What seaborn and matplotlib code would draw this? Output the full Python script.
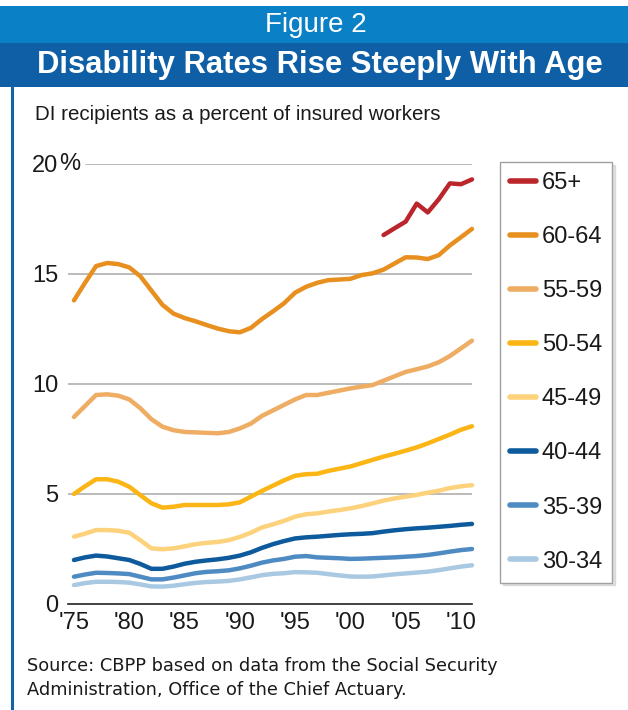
import matplotlib
matplotlib.use("Agg")
import matplotlib.pyplot as plt
from matplotlib.patches import Rectangle
from matplotlib.lines import Line2D
import numpy as np
import pandas as pd
import seaborn as sns

# DI recipients as a percent of insured workers, by age group
years = list(range(1975, 2012))
years_65 = list(range(2003, 2012))

age_65_plus = [16.77, 17.08, 17.38, 18.2, 17.8, 18.4, 19.12, 19.08, 19.3]
age_60_64 = [13.8, 14.6, 15.36, 15.5, 15.45, 15.3, 14.9, 14.25, 13.6, 13.2,
             13.0, 12.85, 12.68, 12.52, 12.4, 12.35, 12.55, 12.95, 13.3, 13.67,
             14.15, 14.42, 14.6, 14.72, 14.75, 14.78, 14.95, 15.03, 15.2, 15.48,
             15.76, 15.75, 15.68, 15.86, 16.3, 16.67, 17.05]
age_55_59 = [8.5, 9.0, 9.5, 9.53, 9.47, 9.3, 8.9, 8.4, 8.06, 7.9,
             7.82, 7.8, 7.78, 7.76, 7.82, 7.98, 8.2, 8.55, 8.8, 9.05,
             9.3, 9.5, 9.5, 9.6, 9.7, 9.8, 9.88, 9.95, 10.15, 10.35,
             10.55, 10.67, 10.8, 10.99, 11.27, 11.62, 11.97]
age_50_54 = [5.0, 5.35, 5.67, 5.67, 5.56, 5.33, 4.95, 4.58, 4.38, 4.42,
             4.5, 4.5, 4.5, 4.5, 4.53, 4.62, 4.88, 5.14, 5.38, 5.62,
             5.83, 5.9, 5.92, 6.05, 6.15, 6.25, 6.4, 6.55, 6.7, 6.83,
             6.97, 7.12, 7.3, 7.5, 7.7, 7.92, 8.08]
age_45_49 = [3.06, 3.2, 3.36, 3.36, 3.33, 3.24, 2.9, 2.53, 2.49, 2.53,
             2.62, 2.72, 2.78, 2.82, 2.9, 3.05, 3.24, 3.48, 3.62, 3.78,
             3.97, 4.08, 4.12, 4.2, 4.27, 4.35, 4.45, 4.57, 4.7, 4.8,
             4.88, 4.96, 5.06, 5.15, 5.27, 5.35, 5.4]
age_40_44 = [2.0, 2.12, 2.2, 2.16, 2.08, 2.0, 1.82, 1.6, 1.6, 1.7,
             1.83, 1.92, 1.98, 2.03, 2.1, 2.2, 2.35, 2.55, 2.72, 2.86,
             2.98, 3.03, 3.06, 3.1, 3.14, 3.17, 3.19, 3.22, 3.29, 3.35,
             3.4, 3.44, 3.47, 3.51, 3.55, 3.6, 3.64]
age_35_39 = [1.24, 1.34, 1.42, 1.41, 1.39, 1.36, 1.24, 1.12, 1.12, 1.2,
             1.3, 1.4, 1.46, 1.49, 1.53, 1.62, 1.74, 1.88, 1.98, 2.05,
             2.15, 2.18, 2.12, 2.1, 2.08, 2.05, 2.06, 2.08, 2.1, 2.12,
             2.15, 2.18, 2.23, 2.3, 2.38, 2.45, 2.5]
age_30_34 = [0.86, 0.95, 1.01, 1.01, 1.0, 0.97, 0.89, 0.8, 0.79, 0.83,
             0.9, 0.96, 1.0, 1.02, 1.05, 1.12, 1.21, 1.31, 1.37, 1.4,
             1.45, 1.44, 1.42, 1.36, 1.3, 1.25, 1.24, 1.25, 1.3, 1.35,
             1.39, 1.43, 1.47, 1.54, 1.62, 1.7, 1.76]

groups = ["65+", "60-64", "55-59", "50-54", "45-49", "40-44", "35-39", "30-34"]
colors = ["#bb262c", "#e8901f", "#eead63", "#fbb515", "#fdd27c",
          "#0d5a9c", "#4f8bc3", "#a9c8e2"]

y_ticks = [0, 5, 10, 15, 20]
x_major = [1975, 1980, 1985, 1990, 1995, 2000, 2005, 2010]
x_labels = ["'75", "'80", "'85", "'90", "'95", "'00", "'05", "'10"]

series = {
    "65+": (years_65, age_65_plus),
    "60-64": (years, age_60_64),
    "55-59": (years, age_55_59),
    "50-54": (years, age_50_54),
    "45-49": (years, age_45_49),
    "40-44": (years, age_40_44),
    "35-39": (years, age_35_39),
    "30-34": (years, age_30_34),
}
frames = [pd.DataFrame({"year": yrs, "rate": vals, "group": g})
          for g, (yrs, vals) in series.items()]
df = pd.concat(frames, ignore_index=True)

sns.set_style("white")
sans = ["Liberation Sans", "DejaVu Sans"]
plt.rcParams["font.family"] = sans

W, H = 628, 710
fig = plt.figure(figsize=(W / 100, H / 100), dpi=100)
fig.patch.set_facecolor("white")

def fx(px):
    return px / W

def fy(py):
    return 1 - py / H

# header bands
fig.add_artist(Rectangle((0, fy(43)), 1, fy(6) - fy(43), transform=fig.transFigure,
                         facecolor="#0a80c7", edgecolor="none"))
fig.add_artist(Rectangle((0, fy(87)), 1, fy(43) - fy(87), transform=fig.transFigure,
                         facecolor="#0e5fa6", edgecolor="none"))
fig.add_artist(Line2D([fx(12), fx(12)], [0, fy(87)], transform=fig.transFigure,
                      color="#1462a8", linewidth=2.2))
fig.text(fx(316), fy(25), "Figure 2", color="white", fontsize=20,
         ha="center", va="center")
fig.text(fx(320), fy(65), "Disability Rates Rise Steeply With Age", color="white",
         fontsize=22.3, fontweight="bold", ha="center", va="center")
fig.text(fx(35), fy(115), "DI recipients as a percent of insured workers",
         color="#1a1a1a", fontsize=14.8, ha="left", va="center")

# plot area
ax = fig.add_axes([fx(68), fy(604), fx(472) - fx(68), fy(164) - fy(604)])
sns.lineplot(data=df, x="year", y="rate", hue="group", hue_order=groups,
             palette=colors, linewidth=3.2, legend=False, ax=ax, clip_on=False)
for ln in ax.get_lines():
    ln.set_solid_capstyle("round")
    ln.set_solid_joinstyle("round")

ax.set_xlim(1974.46, 2011.0)
ax.set_ylim(0, 20)
for v in y_ticks[1:4]:
    ax.axhline(v, color="#b5b5b5", linewidth=1.3, zorder=0)
ax.axhline(20, xmin=18 / 404, color="#b5b5b5", linewidth=1.3, zorder=0)

ax.set_yticks(y_ticks)
ax.set_yticklabels(["0", "5", "10", "15", "20"])
ax.tick_params(axis="y", length=0, pad=7, labelsize=17, labelcolor="#1a1a1a")
ax.annotate("%", xy=(0, 20), xycoords=("axes fraction", "data"),
            xytext=(-9, 0), textcoords="offset pixels", ha="left", va="center",
            fontsize=17, color="#1a1a1a")

ax.set_xticks(x_major)
ax.set_xticklabels(x_labels)
ax.set_xticks(years, minor=True)
ax.tick_params(axis="x", which="major", direction="in", length=6.5, width=1.1,
               color="#222222", pad=6, labelsize=17, labelcolor="#1a1a1a")
ax.tick_params(axis="x", which="minor", direction="in", length=4.2, width=1.1,
               color="#222222")
ax.set_xlabel("")
ax.set_ylabel("")
for s in ["top", "right", "left"]:
    ax.spines[s].set_visible(False)
ax.spines["bottom"].set_color("#222222")
ax.spines["bottom"].set_linewidth(1.2)

handles = [Line2D([], [], color=c, linewidth=4, solid_capstyle="round") for c in colors]
leg = ax.legend(handles, groups, loc="upper left",
                bbox_to_anchor=(fx(500), fy(162)), bbox_transform=fig.transFigure,
                borderaxespad=0, fontsize=17, handlelength=1.1, handletextpad=0.25,
                labelspacing=1.36, borderpad=0.42, frameon=True, fancybox=False,
                shadow={"ox": 2, "oy": -2, "color": "#c4c4c4"})
leg.get_frame().set_edgecolor("#a0a0a0")
leg.get_frame().set_linewidth(1.0)
for t in leg.get_texts():
    t.set_color("#1a1a1a")

fig.text(fx(27), fy(666), "Source: CBPP based on data from the Social Security",
         fontsize=12.8, family=["DejaVu Sans"], color="#1a1a1a", ha="left", va="center")
fig.text(fx(27), fy(690), "Administration, Office of the Chief Actuary.",
         fontsize=12.8, family=["DejaVu Sans"], color="#1a1a1a", ha="left", va="center")

fig.savefig("out.png", dpi=100)
